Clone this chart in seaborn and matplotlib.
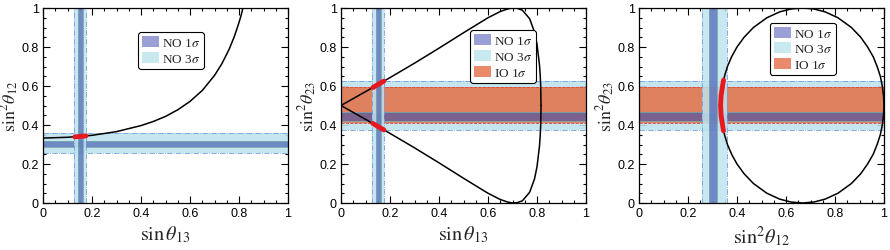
import matplotlib
matplotlib.use("Agg")
import matplotlib.pyplot as plt
from matplotlib.patches import Patch
from matplotlib.ticker import MultipleLocator, FuncFormatter
import seaborn as sns

# --- bands (lo, hi) ---
s13_3sig = [0.128, 0.174]
s13_1sig = [0.142, 0.162]
s12_3sig = [0.256, 0.358]
s12_1sig = [0.286, 0.320]
s23_3sig = [0.372, 0.628]
s23_no1sig = [0.420, 0.466]
s23_io1sig = [0.412, 0.594]

# --- panel 1 curve: sin^2 th12 vs sin th13 ---
c1_x = [0, 0.1, 0.2, 0.3, 0.4, 0.45, 0.5, 0.55, 0.6, 0.65, 0.7, 0.73, 0.76,
        0.78, 0.79, 0.8, 0.805, 0.81, 0.816]
c1_y = [0.333, 0.337, 0.347, 0.366, 0.397, 0.418, 0.444, 0.478, 0.521, 0.577,
        0.654, 0.714, 0.789, 0.851, 0.887, 0.926, 0.947, 0.969, 1.0]
r1_x = [0.13, 0.15, 0.175]
r1_y = [0.339, 0.341, 0.344]

# --- panel 2 curve: sin^2 th23 vs sin th13 ---
c2_x = [0, 0.1, 0.2, 0.3, 0.4, 0.5, 0.6, 0.65, 0.68, 0.7, 0.72, 0.74, 0.77,
        0.79, 0.8, 0.81, 0.813, 0.815, 0.8165]
c2_up = [0.5, 0.571, 0.643, 0.717, 0.794, 0.873, 0.950, 0.982, 0.995, 1.0,
         0.998, 0.989, 0.945, 0.876, 0.814, 0.710, 0.657, 0.604, 0.5]
c2_lo = [0.5, 0.429, 0.357, 0.283, 0.206, 0.127, 0.050, 0.018, 0.005, 0.0,
         0.002, 0.011, 0.055, 0.124, 0.186, 0.290, 0.343, 0.396, 0.5]
r2_x = [0.13, 0.15, 0.175]
r2_up = [0.592, 0.607, 0.625]
r2_lo = [0.408, 0.393, 0.375]

# --- panel 3 curve: sin^2 th23 vs sin^2 th12 ---
c3_x = [0.333, 0.335, 0.341, 0.349, 0.361, 0.378, 0.400, 0.429, 0.467, 0.522,
        0.574, 0.620, 0.667, 0.714, 0.760, 0.812, 0.867, 0.905, 0.933, 0.956,
        0.972, 0.985, 0.993, 0.998, 1.0]
c3_up = [0.5, 0.55, 0.6, 0.65, 0.7, 0.75, 0.8, 0.85, 0.9, 0.95, 0.98, 0.995,
         1.0, 0.995, 0.98, 0.95, 0.9, 0.85, 0.8, 0.75, 0.7, 0.65, 0.6, 0.55, 0.5]
c3_lo = [0.5, 0.45, 0.4, 0.35, 0.3, 0.25, 0.2, 0.15, 0.1, 0.05, 0.02, 0.005,
         0.0, 0.005, 0.02, 0.05, 0.1, 0.15, 0.2, 0.25, 0.3, 0.35, 0.4, 0.45, 0.5]
r3_x = [0.345, 0.341, 0.335, 0.333, 0.335, 0.341, 0.345]
r3_y = [0.63, 0.6, 0.55, 0.5, 0.45, 0.4, 0.37]

LIGHT = "#bfe3ee"
DARK = "#3a4fae"
ORANGE = "#e2764f"
EDGE3 = "#6f9fd6"
EDGE1 = "#7aa8a8"
RED = "#e8191e"

sns.set_theme(style="ticks")
plt.rcParams["font.family"] = ["Liberation Sans", "DejaVu Sans"]
plt.rcParams["mathtext.fontset"] = "stix"

fig = plt.figure(figsize=(8.9, 2.51), dpi=100)
lefts = [43 / 890, 341 / 890, 639 / 890]
axes = [fig.add_axes([l, 47 / 251, 245 / 890, 195 / 251]) for l in lefts]


def hband(ax, lim, color, alpha, edge, ls, z):
    ax.axhspan(lim[0], lim[1], color=color, alpha=alpha, lw=0, zorder=z)
    for v in lim:
        ax.axhline(v, color=edge, lw=0.6, ls=ls, zorder=z + 0.1)


def vband(ax, lim, color, alpha, edge, ls, z):
    ax.axvspan(lim[0], lim[1], color=color, alpha=alpha, lw=0, zorder=z)
    for v in lim:
        ax.axvline(v, color=edge, lw=0.6, ls=ls, zorder=z + 0.1)


def curve(ax, x, y, color="black", lw=1.1, z=5):
    sns.lineplot(x=x, y=y, sort=False, estimator=None, color=color, lw=lw,
                 ax=ax, zorder=z)


# panel 1
ax = axes[0]
hband(ax, s12_3sig, LIGHT, 0.9, EDGE3, "-.", 1)
hband(ax, s12_1sig, DARK, 0.62, EDGE1, "-", 2)
vband(ax, s13_3sig, LIGHT, 0.85, EDGE3, "-.", 3)
vband(ax, s13_1sig, DARK, 0.62, EDGE1, "-", 4)
curve(ax, c1_x, c1_y)
curve(ax, r1_x, r1_y, RED, 3.5, 6)
ax.set_xlabel(r"$\sin\theta_{13}$", fontsize=14.5)
ax.set_ylabel(r"$\sin^2\!\theta_{12}$", fontsize=13)

# panel 2
ax = axes[1]
hband(ax, s23_3sig, LIGHT, 0.9, EDGE3, "-.", 1)
hband(ax, s23_io1sig, ORANGE, 0.9, "#d9473a", "--", 2)
hband(ax, s23_no1sig, DARK, 0.62, EDGE1, "-", 2.5)
vband(ax, s13_3sig, LIGHT, 0.85, EDGE3, "-.", 3)
vband(ax, s13_1sig, DARK, 0.62, EDGE1, "-", 4)
curve(ax, c2_x, c2_up)
curve(ax, c2_x, c2_lo)
curve(ax, r2_x, r2_up, RED, 3.5, 6)
curve(ax, r2_x, r2_lo, RED, 3.5, 6)
ax.set_xlabel(r"$\sin\theta_{13}$", fontsize=14.5)
ax.set_ylabel(r"$\sin^2\!\theta_{23}$", fontsize=13)

# panel 3
ax = axes[2]
hband(ax, s23_3sig, LIGHT, 0.9, EDGE3, "-.", 1)
hband(ax, s23_io1sig, ORANGE, 0.9, "#d9473a", "--", 2)
hband(ax, s23_no1sig, DARK, 0.62, EDGE1, "-", 2.5)
vband(ax, s12_3sig, LIGHT, 0.85, EDGE3, "-.", 3)
vband(ax, s12_1sig, DARK, 0.62, EDGE1, "-", 4)
curve(ax, c3_x, c3_up)
curve(ax, c3_x, c3_lo)
curve(ax, r3_x, r3_y, RED, 3.5, 6)
ax.set_xlabel(r"$\sin^2\!\theta_{12}$", fontsize=14.5)
ax.set_ylabel(r"$\sin^2\!\theta_{23}$", fontsize=13)

# legends
h_no1 = Patch(facecolor="#9a9fd6", edgecolor="none", label=r"NO 1$\sigma$")
h_no3 = Patch(facecolor="#c9e9f1", edgecolor="none", label=r"NO 3$\sigma$")
h_io1 = Patch(facecolor="#ea8a6c", edgecolor="none", label=r"IO 1$\sigma$")
leg_cfg = [([h_no1, h_no3], (0.388, 0.877)),
           ([h_no1, h_no3, h_io1], (0.527, 0.885)),
           ([h_no1, h_no3, h_io1], (0.534, 0.925))]

for ax, (handles, anchor) in zip(axes, leg_cfg):
    ax.set_xlim(0, 1)
    ax.set_ylim(0, 1)
    ax.xaxis.set_major_locator(MultipleLocator(0.2))
    ax.yaxis.set_major_locator(MultipleLocator(0.2))
    ax.xaxis.set_minor_locator(MultipleLocator(0.05))
    ax.yaxis.set_minor_locator(MultipleLocator(0.05))
    fmt = FuncFormatter(lambda v, p: f"{v:g}")
    ax.xaxis.set_major_formatter(fmt)
    ax.yaxis.set_major_formatter(fmt)
    ax.tick_params(which="both", direction="in", top=True, right=True,
                   colors="black", labelsize=9, width=0.8)
    ax.tick_params(which="major", length=5, pad=3)
    ax.tick_params(which="minor", length=2.5)
    for sp in ax.spines.values():
        sp.set_linewidth(0.9)
        sp.set_color("black")
        sp.set_zorder(10)
    ax.xaxis.labelpad = 3
    ax.yaxis.set_label_coords(-0.088, 0.5)
    leg = ax.legend(handles=handles, loc="upper left", bbox_to_anchor=anchor,
                    borderaxespad=0, frameon=True, fancybox=True,
                    prop={"family": "Liberation Serif", "size": 9.5},
                    handlelength=1.3, handleheight=0.9, handletextpad=0.2,
                    labelspacing=0.2, borderpad=0.3)
    leg.get_frame().set_edgecolor("black")
    leg.get_frame().set_linewidth(0.8)
    leg.get_frame().set_alpha(1)
    leg.set_zorder(20)

fig.savefig("out.png", dpi=100)
